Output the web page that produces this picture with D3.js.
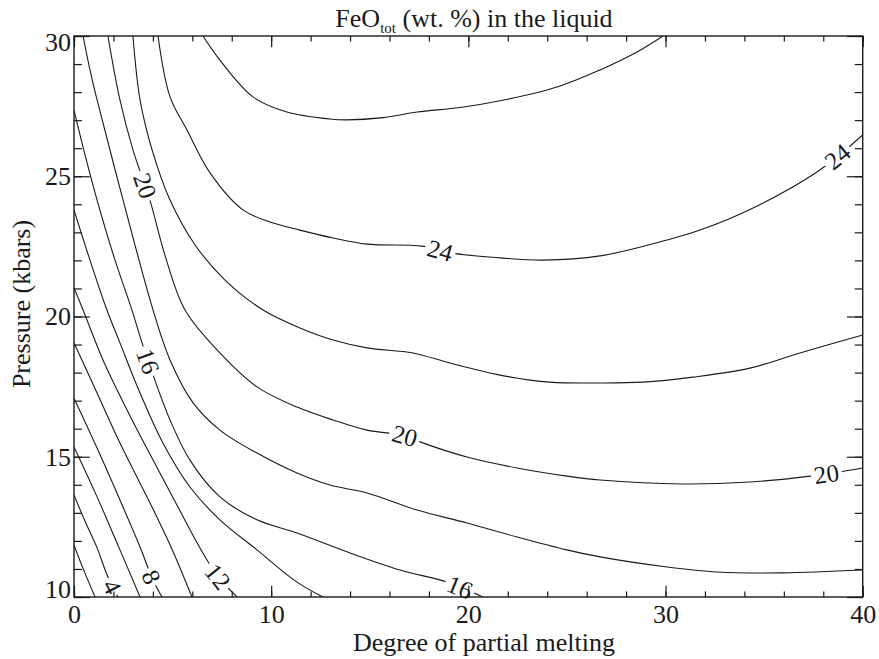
<!DOCTYPE html>
<html>
<head>
<meta charset="utf-8">
<script src="https://cdn.jsdelivr.net/npm/d3@7"></script>
<style>
  html, body { margin: 0; padding: 0; background: #fff; }
  svg { display: block; font-family: "Liberation Serif", "Times New Roman", serif; }
  svg text { font-family: "Liberation Serif", "Times New Roman", serif; }
</style>
</head>
<body>
<svg id="chart" width="879" height="659"></svg>
<script>
// Axis ticks
const xMajorTicks = [0, 10, 20, 30, 40];
const yMajorTicks = [10, 15, 20, 25, 30];

// Contour levels of FeO_tot (wt. %), each traced as [degree of melting, pressure (kbar)]
const feo2  = [[0, 11.85], [0.51, 10.93], [1.07, 10]];
const feo4  = [[0, 13.64], [0.56, 12.7], [1.17, 11.75], [1.72, 10.71], [2.23, 10]];
const feo6  = [[0, 15.35], [1.17, 13.57], [2.33, 11.68], [3.35, 10]];
const feo8  = [[0, 17.09], [1.17, 15.31], [2.33, 13.46], [3.35, 11.78], [3.96, 10.68], [4.46, 10]];
const feo10 = [[0, 19.06], [1.17, 17.27], [2.33, 15.49], [3.70, 13.57], [4.87, 11.86], [5.98, 10]];
const feo12 = [[0, 21.02], [0.46, 20.23], [1.47, 18.45], [2.69, 16.67], [4.01, 14.88], [5.22, 13.28],
               [6.39, 11.75], [7.25, 10.78], [8.27, 10]];
const feo14 = [[0, 23.8], [0.81, 22.01], [1.67, 20.23], [2.33, 19.06], [3.35, 17.27], [4.51, 15.49],
               [5.88, 13.92], [7.40, 12.75], [9.28, 11.68], [11.31, 10.53], [12.63, 10]];
const feo16 = [[0, 27.36], [0.56, 25.76], [1.17, 24.15], [2.08, 22.01], [2.94, 20.23], [3.45, 19.06],
               [4.01, 17.91], [4.87, 16.31], [5.88, 14.88], [7.40, 13.57], [9.28, 12.75], [11.31, 12.28],
               [14.0, 11.57], [16.53, 10.96], [18.92, 10.53], [20.74, 10]];
const feo18 = [[0.46, 30], [0.81, 28.79], [1.17, 27.72], [2.49, 24.15], [4.01, 20.23], [4.87, 18.45],
               [6.04, 16.92], [7.40, 15.95], [9.28, 15.13], [11.31, 14.42], [12.98, 13.99], [14.86, 13.71],
               [17.40, 13.10], [19.93, 12.64], [22.47, 12.14], [25.0, 11.68], [26.68, 11.43], [30.08, 11.07],
               [32.61, 10.89], [35.96, 10.86], [40, 10.96]];
const feo20 = [[1.72, 30], [2.33, 27.72], [2.99, 25.94], [3.85, 24.15], [4.61, 22.19], [5.63, 20.23],
               [7.40, 18.70], [9.28, 17.49], [11.31, 16.77], [13.14, 16.31], [14.86, 15.95], [16.79, 15.75],
               [17.55, 15.53], [19.93, 14.99], [22.47, 14.60], [25.0, 14.31], [26.68, 14.17], [30.89, 14.03],
               [34.28, 14.10], [37.33, 14.31], [40, 14.60]];
const feo22 = [[2.99, 30], [3.35, 27.72], [3.96, 25.94], [4.87, 24.15], [6.14, 22.55], [7.66, 21.30],
               [9.59, 20.23], [11.46, 19.59], [13.14, 19.16], [14.86, 18.88], [17.19, 18.70], [19.07, 18.34],
               [21.61, 17.91], [24.14, 17.66], [26.68, 17.63], [28.86, 17.66], [31.39, 17.84], [34.28, 18.16],
               [36.82, 18.70], [40, 19.34]];
const feo24 = [[4.26, 30], [4.87, 27.83], [5.73, 26.65], [6.90, 25.12], [8.57, 23.80], [9.94, 23.37],
               [11.46, 23.08], [13.14, 22.80], [14.86, 22.58], [17.65, 22.51], [19.17, 22.26], [21.61, 22.09],
               [23.79, 22.01], [26.68, 22.16], [30.08, 22.73], [31.75, 23.08], [34.44, 23.87], [37.68, 25.15],
               [40, 26.47]];
const feo26 = [[6.54, 30], [7.40, 29.14], [9.08, 27.83], [10.80, 27.29], [12.98, 27.04], [13.85, 27.01],
               [15.67, 27.09], [17.40, 27.29], [19.58, 27.45], [21.61, 27.69], [24.50, 28.18], [26.68, 28.79],
               [28.55, 29.43], [29.87, 30]];

const contourLevels = [2, 4, 6, 8, 10, 12, 14, 16, 18, 20, 22, 24, 26];
const contourPaths  = [feo2, feo4, feo6, feo8, feo10, feo12, feo14, feo16, feo18, feo20, feo22, feo24, feo26];

// In-line contour labels: level and approximate position [degree, pressure]
const labelLevels = [4, 8, 12, 16, 16, 20, 20, 20, 24, 24];
const labelAt = [[2.13, 10.43], [3.85, 10.68], [7.20, 10.68], [3.96, 18.45], [19.58, 10.36],
                 [3.75, 24.69], [16.79, 15.78], [38.14, 14.53], [18.61, 22.48], [38.54, 25.86]];

// ---- layout ----
const W = 879, H = 659;
const margin = { top: 36, right: 16.3, bottom: 62, left: 74 };
const x = d3.scaleLinear().domain([0, 40]).range([margin.left, W - margin.right]);
const y = d3.scaleLinear().domain([10, 30]).range([H - margin.bottom, margin.top]);
const plotW = x(40) - x(0), plotH = y(10) - y(30);
const ink = "#1a1a1a";
const serif = "'Liberation Serif', 'Times New Roman', serif";

const svg = d3.select("#chart");
const defs = svg.append("defs");

defs.append("clipPath").attr("id", "plotClip")
  .append("rect").attr("x", x(0)).attr("y", y(30)).attr("width", plotW).attr("height", plotH);

const mask = defs.append("mask").attr("id", "labelGaps")
  .attr("maskUnits", "userSpaceOnUse").attr("x", 0).attr("y", 0).attr("width", W).attr("height", H);
mask.append("rect").attr("width", W).attr("height", H).attr("fill", "#fff");

// ---- contour lines ----
const line = d3.line().x(d => x(d[0])).y(d => y(d[1])).curve(d3.curveCatmullRom.alpha(0.5));

const contourG = svg.append("g").attr("clip-path", "url(#plotClip)")
  .append("g").attr("mask", "url(#labelGaps)");

const pathByLevel = {};
contourPaths.forEach((pts, i) => {
  const p = contourG.append("path")
    .attr("d", line(pts))
    .attr("fill", "none")
    .attr("stroke", ink)
    .attr("stroke-width", 1.1);
  pathByLevel[contourLevels[i]] = p.node();
});

// ---- contour labels, oriented along the local tangent ----
const labelG = svg.append("g");
labelLevels.forEach((lev, i) => {
  const node = pathByLevel[lev];
  const total = node.getTotalLength();
  const tx = x(labelAt[i][0]), ty = y(labelAt[i][1]);
  let best = 0, bestD = Infinity;
  for (let L = 0; L <= total; L += 0.5) {
    const p = node.getPointAtLength(L);
    const d = (p.x - tx) ** 2 + (p.y - ty) ** 2;
    if (d < bestD) { bestD = d; best = L; }
  }
  const c = node.getPointAtLength(best);
  const a = node.getPointAtLength(Math.max(0, best - 6));
  const b = node.getPointAtLength(Math.min(total, best + 6));
  let ang = Math.atan2(b.y - a.y, b.x - a.x) * 180 / Math.PI;
  if (ang > 90) ang -= 180;
  if (ang <= -90) ang += 180;

  const t = labelG.append("text")
    .attr("transform", `translate(${c.x},${c.y}) rotate(${ang})`)
    .attr("text-anchor", "middle")
    .attr("dy", "0.35em")
    .attr("font-family", serif)
    .attr("font-size", 25)
    .attr("fill", ink)
    .text(lev);
  const w = t.node().getComputedTextLength();
  mask.append("rect")
    .attr("transform", `translate(${c.x},${c.y}) rotate(${ang})`)
    .attr("x", -w / 2 - 3).attr("y", -10).attr("width", w + 6).attr("height", 20)
    .attr("fill", "#000");
});

// ---- axes: ticks pointing inward on all four sides ----
const xMinor = d3.range(0, 40.01, 2);
const yMinor = d3.range(10, 30.01, 1);
const xMajLen = 11.2, xMinLen = 5.6, yMajLen = 15.8, yMinLen = 7.9;

function styleAxis(g) {
  g.attr("font-family", serif);
  g.select(".domain").remove();
  g.selectAll("line").attr("stroke", ink).attr("stroke-width", 1.2);
  g.selectAll("text").attr("font-family", serif).attr("font-size", 26).attr("fill", ink);
}

// bottom
svg.append("g").attr("transform", `translate(0,${y(10)})`)
  .call(d3.axisBottom(x).tickValues(xMinor).tickSize(-xMinLen).tickFormat(""))
  .call(styleAxis);
svg.append("g").attr("transform", `translate(0,${y(10)})`)
  .call(d3.axisBottom(x).tickValues(xMajorTicks).tickSize(-xMajLen).tickPadding(8).tickFormat(d3.format("d")))
  .call(styleAxis);
// top
svg.append("g").attr("transform", `translate(0,${y(30)})`)
  .call(d3.axisTop(x).tickValues(xMinor).tickSize(-xMinLen).tickFormat(""))
  .call(styleAxis);
svg.append("g").attr("transform", `translate(0,${y(30)})`)
  .call(d3.axisTop(x).tickValues(xMajorTicks).tickSize(-xMajLen).tickFormat(""))
  .call(styleAxis);
// left
svg.append("g").attr("transform", `translate(${x(0)},0)`)
  .call(d3.axisLeft(y).tickValues(yMinor).tickSize(-yMinLen).tickFormat(""))
  .call(styleAxis);
const yLab = svg.append("g").attr("transform", `translate(${x(0)},0)`)
  .call(d3.axisLeft(y).tickValues(yMajorTicks).tickSize(-yMajLen).tickPadding(3).tickFormat(d3.format("d")))
  .call(styleAxis);
yLab.selectAll(".tick text").attr("y", d => d === 30 ? 6 : d === 10 ? -8 : 0);
// right
svg.append("g").attr("transform", `translate(${x(40)},0)`)
  .call(d3.axisRight(y).tickValues(yMinor).tickSize(-yMinLen).tickFormat(""))
  .call(styleAxis);
svg.append("g").attr("transform", `translate(${x(40)},0)`)
  .call(d3.axisRight(y).tickValues(yMajorTicks).tickSize(-yMajLen).tickFormat(""))
  .call(styleAxis);

// frame
svg.append("rect")
  .attr("x", x(0)).attr("y", y(30)).attr("width", plotW).attr("height", plotH)
  .attr("fill", "none").attr("stroke", ink).attr("stroke-width", 1.4);

// ---- titles ----
const title = svg.append("text")
  .attr("x", 474).attr("y", 27).attr("font-family", serif)
  .attr("text-anchor", "middle").attr("font-size", 26).attr("fill", ink);
title.append("tspan").text("FeO");
title.append("tspan").attr("font-size", 15).attr("dy", 6).text("tot");
title.append("tspan").attr("dy", -6).text(" (wt. %) in the liquid");

svg.append("text")
  .attr("x", 484).attr("y", 651).attr("font-family", serif)
  .attr("text-anchor", "middle").attr("font-size", 26).attr("fill", ink)
  .text("Degree of partial melting");

svg.append("text")
  .attr("transform", "translate(30,304) rotate(-90)").attr("font-family", serif)
  .attr("text-anchor", "middle").attr("font-size", 26).attr("fill", ink)
  .text("Pressure (kbars)");
</script>
</body>
</html>
